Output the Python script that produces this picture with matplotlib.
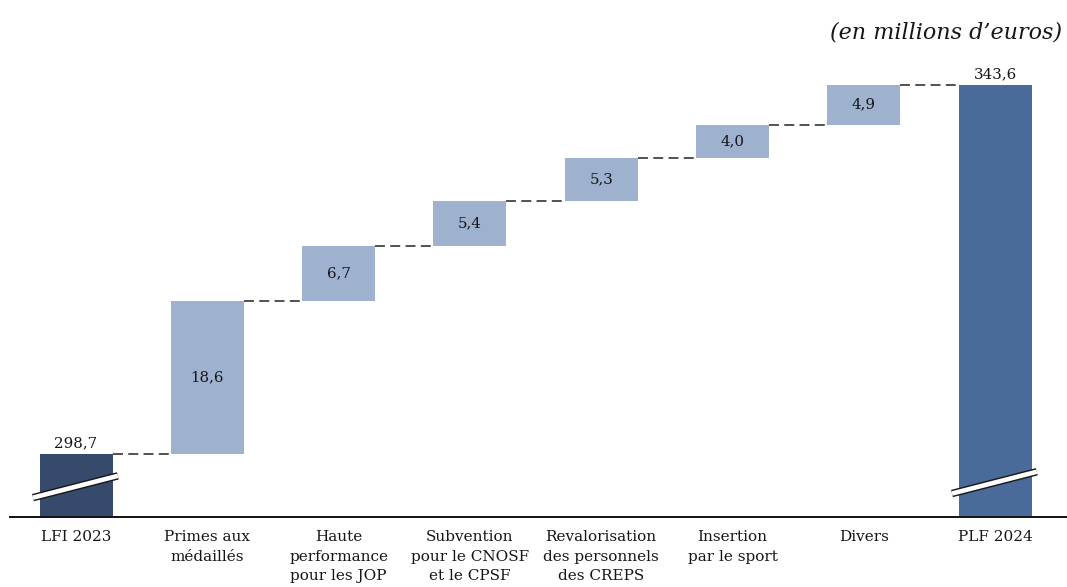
import matplotlib
matplotlib.use("Agg")
import matplotlib.pyplot as plt
import numpy as np

# Budget bridge, LFI 2023 -> PLF 2024 (millions d'euros)
categories = ["LFI 2023", "Primes aux\nmédaillés", "Haute\nperformance\npour les JOP",
              "Subvention\npour le CNOSF\net le CPSF", "Revalorisation\ndes personnels\ndes CREPS",
              "Insertion\npar le sport", "Divers", "PLF 2024"]
start_value = 298.7
increments = [18.6, 6.7, 5.4, 5.3, 4.0, 4.9]
end_value = 343.6
value_labels = ["298,7", "18,6", "6,7", "5,4", "5,3", "4,0", "4,9", "343,6"]

plt.rcParams["font.family"] = ["DejaVu Serif"]

fig = plt.figure(figsize=(10.67, 5.87), dpi=100)
W, H = 1067, 587
ax = fig.add_axes([10 / W, (H - 517) / H, 1057 / W, (517 - 60) / H])

y_min = 291.0
y_max = y_min + 457 / 8.22
ax.set_ylim(y_min, y_max)
ax.set_xlim(-0.503, 7.548)

c_start = "#364b6b"
c_step = "#9eb1cf"
c_end = "#4a6a99"
txt = "#161616"
bw = 0.556

x = np.arange(len(categories))
# first and last totals
ax.bar(x[0], start_value - y_min, bottom=y_min, width=bw, color=c_start, zorder=2)
ax.bar(x[-1], end_value - y_min, bottom=y_min, width=bw, color=c_end, zorder=2)

# floating increments
level = start_value
tops = [start_value]
for i, inc in enumerate(increments, start=1):
    ax.bar(x[i], inc, bottom=level, width=bw, color=c_step, zorder=2)
    ax.text(x[i], level + inc / 2, value_labels[i], ha="center", va="center",
            fontsize=10.8, color=txt, zorder=3)
    level += inc
    tops.append(level)
tops.append(end_value)

# dashed connectors between consecutive bars
for i in range(len(categories) - 1):
    ax.plot([x[i] + bw / 2, x[i + 1] - bw / 2], [tops[i], tops[i]],
            color="#222222", lw=1.1, ls=(0, (6.5, 3.5)), zorder=1)

# total labels above the end bars
ax.text(x[0], start_value + 0.45, value_labels[0], ha="center", va="bottom",
        fontsize=10.8, color=txt)
ax.text(x[-1], end_value + 0.45, value_labels[-1], ha="center", va="bottom",
        fontsize=10.8, color=txt)

# axis break marks on the truncated totals
def break_mark(xc, yc):
    xs = np.array([xc - bw / 2 - 0.05, xc + bw / 2 + 0.04])
    ys = yc + 4.1 * (xs - xc)
    ax.plot(xs, ys, color="#1a1a1a", lw=5.4, solid_capstyle="butt", zorder=4)
    ax.plot(xs, ys, color="white", lw=3.3, solid_capstyle="butt", zorder=5)

break_mark(x[0], 294.7)
break_mark(x[-1], 295.2)

for s in ("top", "right", "left"):
    ax.spines[s].set_visible(False)
ax.spines["bottom"].set_color("#111111")
ax.spines["bottom"].set_linewidth(1.4)
ax.set_yticks([])
ax.set_xticks(x)
ax.set_xticklabels(categories, fontsize=11, color=txt, linespacing=1.5)
ax.tick_params(axis="x", length=0, pad=9.5)

fig.text(1062 / W, 1 - 33 / H, "(en millions d\u2019euros)", ha="right", va="center",
         fontsize=16, style="italic", color=txt)

fig.savefig("out.png", dpi=100)
